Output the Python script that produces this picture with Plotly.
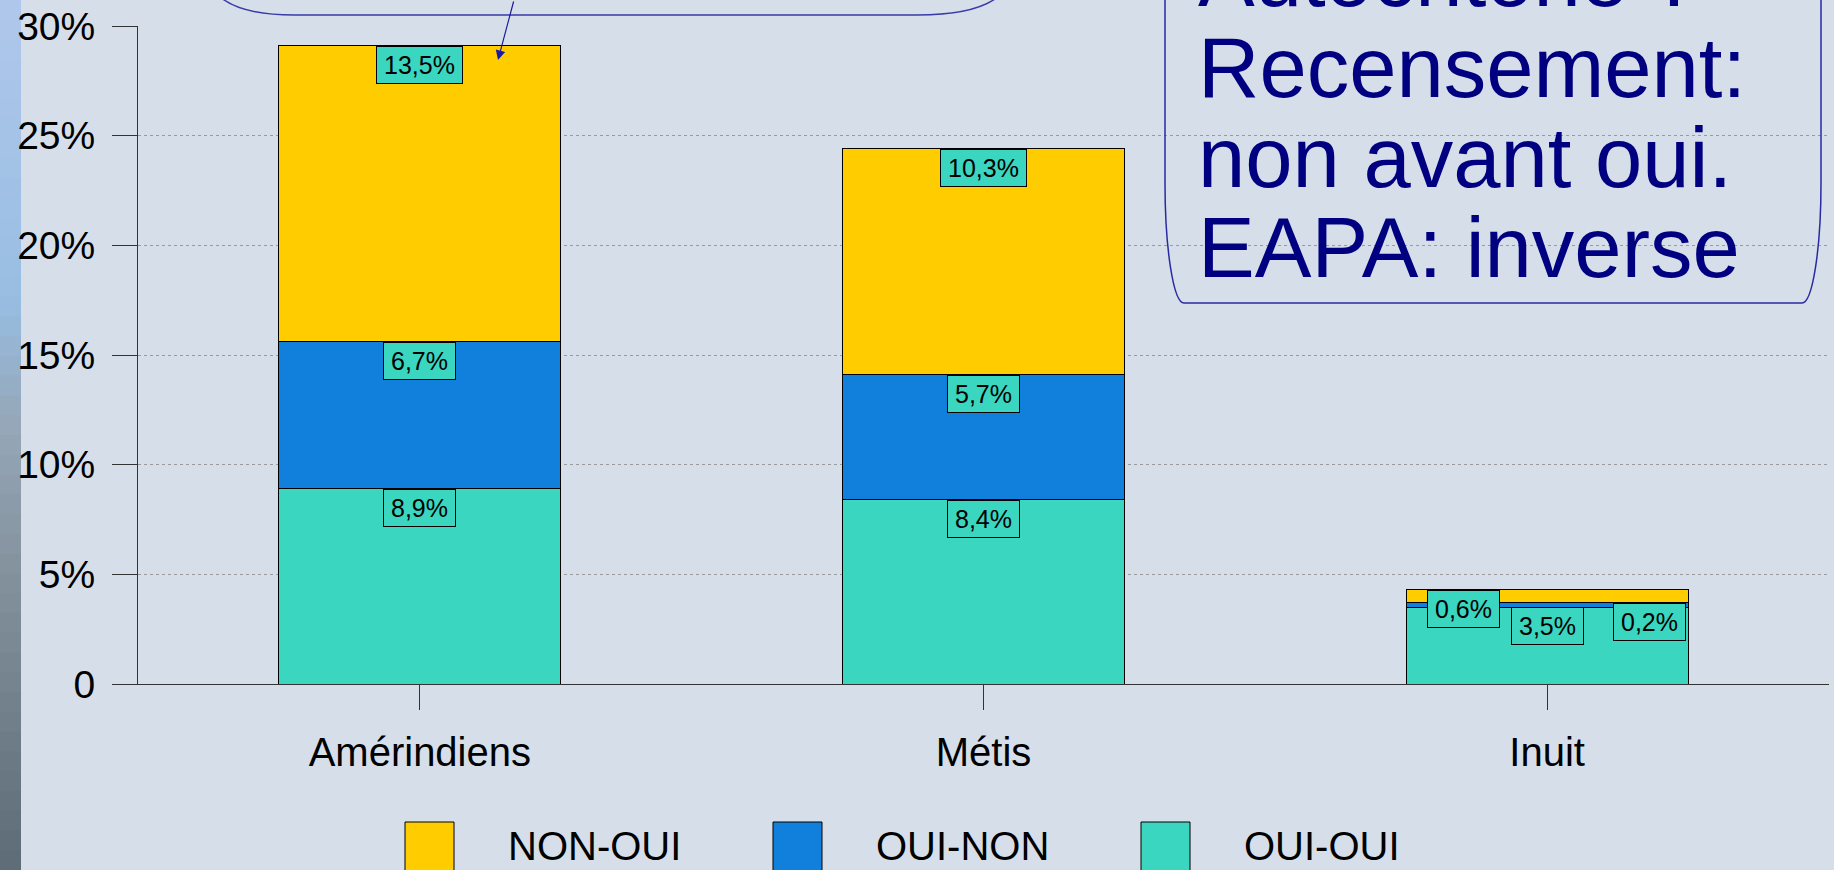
import plotly.graph_objects as go

# ---------------- data ----------------
categories = ["Amérindiens", "Métis", "Inuit"]
oui_oui = [8.9, 8.4, 3.5]
oui_non = [6.7, 5.7, 0.2]
non_oui = [13.5, 10.3, 0.6]
series_names = ["NON-OUI", "OUI-NON", "OUI-OUI"]
y_tickvals = [0, 5, 10, 15, 20, 25, 30]
y_ticktext = ["0", "5%", "10%", "15%", "20%", "25%", "30%"]
box_lines = ["Autochtone ?", "Recensement:", "non avant oui.", "EAPA: inverse"]

# ---------------- styling ----------------
W, H = 1834, 870
ML, MR, MT, MB = 138, 5, 26, 186
FONT = "Liberation Sans, Arial, sans-serif"
C_YEL = "#FFCC00"
C_BLU = "#1080DC"
C_TEAL = "#3AD6C0"
NAVY = "#000080"
LABEL_SIZE = 25


def px(x):
    return (x - ML) / (W - ML - MR)


def py(y):
    return (H - MB - y) / (H - MT - MB)


fig = go.Figure()
colors = {"NON-OUI": C_YEL, "OUI-NON": C_BLU, "OUI-OUI": C_TEAL}
for name, vals in [("OUI-OUI", oui_oui), ("OUI-NON", oui_non), ("NON-OUI", non_oui)]:
    fig.add_trace(go.Bar(
        x=categories, y=vals, name=name,
        marker=dict(color=colors[name], line=dict(color="#000000", width=1)),
        hoverinfo="skip", showlegend=False,
    ))

# data labels (boxed, at the top of each segment)
label_shift = {"Inuit": {"OUI-OUI": 0, "OUI-NON": 102, "NON-OUI": -84}}


def fmt(v):
    return f"{v:.1f}".replace(".", ",") + "%"


def text_w(s):
    widths = {",": 0.278, "%": 0.889}
    return sum(widths.get(ch, 0.556) for ch in s) * LABEL_SIZE


annotations = []
for i, cat in enumerate(categories):
    tops = {
        "OUI-OUI": oui_oui[i],
        "OUI-NON": oui_oui[i] + oui_non[i],
        "NON-OUI": oui_oui[i] + oui_non[i] + non_oui[i],
    }
    vals = {"OUI-OUI": oui_oui[i], "OUI-NON": oui_non[i], "NON-OUI": non_oui[i]}
    for s in ["OUI-OUI", "OUI-NON", "NON-OUI"]:
        txt = fmt(vals[s])
        annotations.append(dict(
            x=cat, y=tops[s], xref="x", yref="y", yanchor="top", xanchor="center",
            text=txt, showarrow=False,
            xshift=label_shift.get(cat, {}).get(s, 0), yshift=0,
            font=dict(family=FONT, size=LABEL_SIZE, color="#000000"),
            width=round(text_w(txt) + 8), height=30,
            bgcolor=C_TEAL, bordercolor="#000000", borderwidth=1, borderpad=3,
        ))

# text box at top-right
baselines = [7, 97, 187, 277]
for t, b in zip(box_lines, baselines):
    annotations.append(dict(
        x=px(1196), y=py(b - 30), xref="paper", yref="paper",
        xanchor="left", yanchor="middle", text=t, showarrow=False,
        font=dict(family=FONT, size=85, color=NAVY),
    ))

# arrow from the (cut-off) callout to the first bar
annotations.append(dict(
    x=px(498), y=py(60), xref="paper", yref="paper", text="",
    showarrow=True, ax=16, ay=-68, axref="pixel", ayref="pixel",
    arrowcolor="#1a1aa0", arrowwidth=1.2, arrowhead=2, arrowsize=1.6, standoff=0,
))

# manual legend
leg_x = [405, 773, 1141]
for name, lx in zip(series_names, leg_x):
    annotations.append(dict(
        x=px(lx + 101), y=py(846), xref="paper", yref="paper",
        xanchor="left", yanchor="middle", text=name, showarrow=False,
        font=dict(family=FONT, size=40, color="#000000"),
    ))

shapes = []
# left decorative strip (gradient approximated with bands)
stops = [(0, (176, 200, 236)), (300, (152, 190, 226)), (420, (150, 168, 186)),
         (560, (134, 148, 160)), (870, (94, 108, 120))]
nb = 44
for k in range(nb):
    y0 = k * H / nb
    y1 = (k + 1) * H / nb + 1
    ym = (y0 + y1) / 2
    for j in range(len(stops) - 1):
        if stops[j][0] <= ym <= stops[j + 1][0]:
            t = (ym - stops[j][0]) / (stops[j + 1][0] - stops[j][0])
            c = tuple(int(stops[j][1][m] + t * (stops[j + 1][1][m] - stops[j][1][m])) for m in range(3))
            break
    shapes.append(dict(type="rect", xref="paper", yref="paper", x0=px(-2), x1=px(21),
                       y0=py(y1), y1=py(y0), fillcolor=f"rgb{c}", line=dict(width=0), layer="below"))

# legend swatches
for name, lx in zip(series_names, leg_x):
    shapes.append(dict(type="rect", xref="paper", yref="paper", x0=px(lx), x1=px(lx + 49),
                       y0=py(880), y1=py(822), fillcolor=colors[name],
                       line=dict(color="#000000", width=1)))

# top-right rounded box
L, R, B = 1165, 1821, 303
rx, ry = 19, 120
k_ = 0.552
box_path = (
    f"M {px(L)},{py(-20)} L {px(L)},{py(B - ry)} "
    f"C {px(L)},{py(B - ry + k_ * ry)} {px(L + rx - k_ * rx)},{py(B)} {px(L + rx)},{py(B)} "
    f"L {px(R - rx)},{py(B)} "
    f"C {px(R - rx + k_ * rx)},{py(B)} {px(R)},{py(B - ry + k_ * ry)} {px(R)},{py(B - ry)} "
    f"L {px(R)},{py(-20)}"
)
shapes.append(dict(type="path", xref="paper", yref="paper", path=box_path,
                   line=dict(color="#2a2aa0", width=1.5)))

# top-left callout (cut off)
call_path = (
    f"M {px(206)},{py(-25)} C {px(214)},{py(6)} {px(250)},{py(15)} {px(294)},{py(15)} "
    f"L {px(917)},{py(15)} C {px(965)},{py(15)} {px(1005)},{py(6)} {px(1012)},{py(-25)}"
)
shapes.append(dict(type="path", xref="paper", yref="paper", path=call_path,
                   line=dict(color="#3a3aa8", width=1.5)))

fig.update_layout(
    width=W, height=H,
    margin=dict(l=ML, r=MR, t=MT, b=MB, pad=0),
    paper_bgcolor="#D6DFE9",
    plot_bgcolor="rgba(0,0,0,0)",
    barmode="stack",
    bargap=0.5,
    showlegend=False,
    font=dict(family=FONT, color="#000000"),
    annotations=annotations,
    shapes=shapes,
)
fig.update_xaxes(
    showline=True, linecolor="#333333", linewidth=1,
    ticks="outside", ticklen=25, tickcolor="#333333", tickwidth=1,
    tickfont=dict(family=FONT, size=40, color="#000000"),
    ticklabelstandoff=8, showgrid=False,
)
fig.update_yaxes(
    range=[0, 30], tickvals=y_tickvals, ticktext=y_ticktext,
    showline=True, linecolor="#333333", linewidth=1,
    ticks="outside", ticklen=25, tickcolor="#333333", tickwidth=1,
    tickfont=dict(family=FONT, size=39, color="#000000"),
    ticklabelstandoff=9,
    showgrid=True, gridcolor="#9a9a9a", griddash="dot", gridwidth=1,
    zeroline=False,
)

fig.write_html(
    "out.html",
    config={"displayModeBar": False},
    post_script="document.body.style.margin='0';document.body.style.overflow='hidden';",
)
